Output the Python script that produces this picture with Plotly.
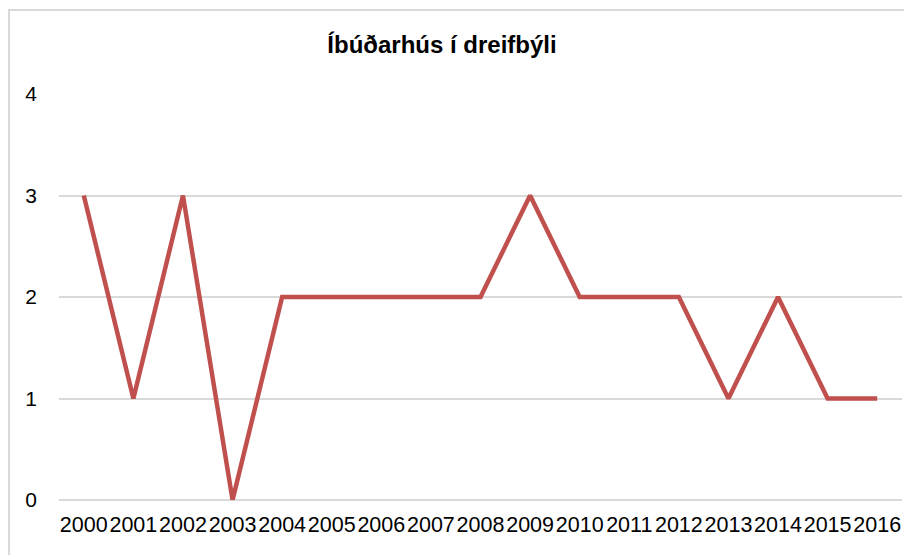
import plotly.graph_objects as go

years = [str(y) for y in range(2000, 2017)]
values = [3, 1, 3, 0, 2, 2, 2, 2, 2, 3, 2, 2, 2, 1, 2, 1, 1]

# page body has an 8px margin, so the figure is sized 8px smaller
fig = go.Figure()
fig = fig.add_trace(
    go.Scatter(
        x=years,
        y=values,
        mode='lines',
        line=dict(color='#C0504D', width=4.5),
    )
)
fig = fig.update_xaxes(type='category', range=[-0.5, 16.5],
                       showgrid=False, showline=False, ticks='',
                       tickangle=0,
                       tickfont=dict(size=21.5, color='#000000'),
                       ticklabelstandoff=9, automargin=False)
fig = fig.update_yaxes(range=[0, 4], dtick=1, showgrid=True,
                       gridcolor='#D9D9D9', gridwidth=1.5,
                       zeroline=True, zerolinecolor='#D9D9D9', zerolinewidth=1.5,
                       showline=False, ticks='',
                       tickfont=dict(size=21, color='#000000'),
                       ticklabelstandoff=21, automargin=False)
fig = fig.update_layout(
    width=909, height=547,
    template='simple_white',
    font=dict(family='Liberation Sans, Arial, sans-serif'),
    margin=dict(l=51, r=15, t=86, b=55),
    title=dict(text='<b>Íbúðarhús í dreifbýli</b>', x=434 / 909, xanchor='center',
               y=1 - 37 / 547, yanchor='middle',
               font=dict(size=24, color='#000000')),
    showlegend=False,
    plot_bgcolor='white', paper_bgcolor='white',
    shapes=[dict(type='rect', xref='paper', yref='paper',
                 x0=-50 / 843, x1=1.1, y0=-0.2, y1=405 / 406 + 85 / 406,
                 fillcolor='rgba(0,0,0,0)', opacity=1,
                 line=dict(color='#D9D9D9', width=2), layer='below')],
)
fig.write_html("out.html")
